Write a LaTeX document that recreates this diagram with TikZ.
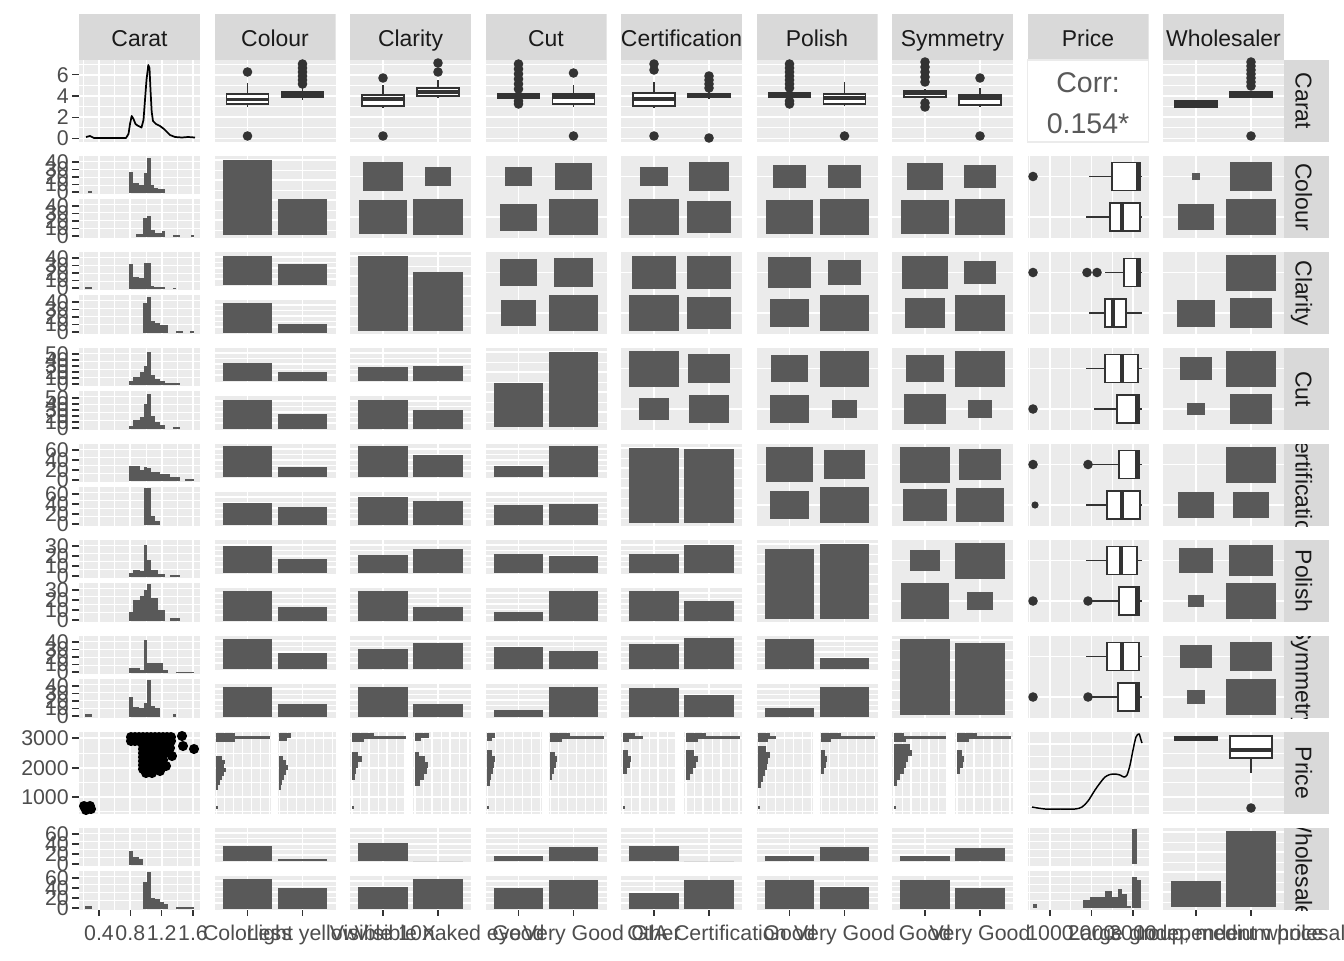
\documentclass[tikz,border=0pt]{standalone}
\usepackage{fontspec}
\setmainfont{Liberation Sans}

\definecolor{panelgrey}{HTML}{EBEBEB}
\definecolor{stripgrey}{HTML}{D9D9D9}
\definecolor{bargrey}{HTML}{595959}
\definecolor{axisgrey}{HTML}{4D4D4D}
\definecolor{inkgrey}{HTML}{333333}
\definecolor{stripink}{HTML}{1A1A1A}
\definecolor{corrgrey}{HTML}{595959}

\tikzset{
  major/.style={draw=white, line width=1.4pt},
  minor/.style={draw=white, line width=0.7pt},
  boxline/.style={draw=inkgrey, line width=1.3pt},
  tickmark/.style={draw=inkgrey, line width=0.9pt},
  ylab/.style={anchor=east, inner sep=0pt, text=axisgrey, font=\fontsize{16}{16}\selectfont},
  xlab/.style={anchor=base, inner sep=0pt, text=axisgrey, font=\fontsize{16}{16}\selectfont},
  striplab/.style={anchor=base, inner sep=0pt, text=stripink, font=\fontsize{17.2}{18}\selectfont},
  corrlab/.style={inner sep=0pt, text=corrgrey, font=\fontsize{21.4}{22}\selectfont},
}

% panel corner (pixels) from column and row
\newcommand\setpanel[2]{%
  \pgfmathsetmacro\pnx{79+135.5*(#1-1)}%
  \pgfmathsetmacro\pny{60+96*(#2-1)}}
\newcommand\vlines[4]{\foreach \g in {#1} {\draw[#4] (\g,#2) -- ++(0,#3);}}
\newcommand\hlines[4]{\foreach \g in {#1} {\draw[#4] (#2,\g) -- ++(#3,0);}}
\newcommand\panelbg{\fill[panelgrey] (\pnx,\pny) rectangle ++(121,82);}
\newcommand\outlier[2]{\fill[inkgrey] (#1,#2) circle[radius=3.6pt];}

% grid lines
\newcommand\caratgrid[2]{%
  \vlines{83.3,114.7,146,177.3}{#1}{#2}{minor}
  \vlines{99,130.3,161.6,193}{#1}{#2}{major}}
\newcommand\pricegrid[2]{%
  \vlines{1029.3,1070.8,1112.3}{#1}{#2}{minor}
  \vlines{1050,1091.5,1133}{#1}{#2}{major}}
\newcommand\discgrid{\vlines{\pnx+33,\pnx+88}{\pny}{82}{major}}
\newcommand\levelgrid{\hlines{\pny+20.5,\pny+61}{\pnx}{121}{major}}
\newcommand\caratrows{%
  \hlines{127.9,106.7,85.4,64.2}{\pnx}{121}{minor}
  \hlines{138.5,117.3,96,74.8}{\pnx}{121}{major}}
\newcommand\pricerows{%
  \hlines{811.8,782.5,753}{\pnx}{121}{minor}
  \hlines{797,768,738}{\pnx}{121}{major}}

% boxplots
\newcommand\vboxplot[6]{% x, whisker top, upper hinge, median, lower hinge, whisker bottom
  \draw[boxline] (#1,#2) -- (#1,#6);
  \filldraw[boxline, fill=white] (#1-21,#3) rectangle (#1+21,#5);
  \draw[boxline, line width=2.6pt] (#1-21,#4) -- (#1+21,#4);}
\newcommand\hboxplot[6]{% y, whisker left, lower hinge, median, upper hinge, whisker right
  \draw[boxline] (#2,#1) -- (#6,#1);
  \filldraw[boxline, fill=white] (#3,#1-14) rectangle (#5,#1+14);
  \draw[boxline, line width=2.6pt] (#4,#1-14) -- (#4,#1+14);}

% count tiles: col, row, sizes top-left, top-right, bottom-left, bottom-right
\newcommand\countpanel[6]{%
  \setpanel{#1}{#2}\panelbg\discgrid\levelgrid
  \foreach \s/\xo/\yo in {#3/33/20.5,#4/88/20.5,#5/33/61,#6/88/61}
    {\fill[bargrey] (\pnx+\xo-24.75*\s,\pny+\yo-18*\s) rectangle (\pnx+\xo+24.75*\s,\pny+\yo+18*\s);}}

% faceted bars: col, row, top bars, bottom bars
\newcommand\facetbars[6]{%
  \setpanel{#1}{#2}
  \foreach \sy/\fa/\fb in {0/#3/#4,48/#5/#6}{
    \fill[panelgrey] (\pnx,\pny+\sy) rectangle ++(121,34);
    \hlines{\pny+\sy+10.5,\pny+\sy+21.5}{\pnx}{121}{minor}
    \hlines{\pny+\sy+5,\pny+\sy+16,\pny+\sy+27}{\pnx}{121}{major}
    \vlines{\pnx+33,\pnx+88}{\pny+\sy}{34}{major}
    \fill[bargrey] (\pnx+8.25,\pny+\sy+32.5) rectangle ++(49.5,-31*\fa);
    \fill[bargrey] (\pnx+63.25,\pny+\sy+32.5) rectangle ++(49.5,-31*\fb);
  }}

% bars on the diagonal
\newcommand\diagbars[3]{%
  \setpanel{#1}{#1}\panelbg
  \hlines{\pny+14,\pny+34,\pny+54,\pny+74}{\pnx}{121}{minor}
  \hlines{\pny+4,\pny+24,\pny+44,\pny+64}{\pnx}{121}{major}
  \discgrid
  \fill[bargrey] (\pnx+8.25,\pny+79) rectangle (\pnx+57.75,\pny+82-82*#2);
  \fill[bargrey] (\pnx+63.25,\pny+79) rectangle (\pnx+112.75,\pny+82-82*#3);}

% carat histograms in two facets: row, top bars, bottom bars, labels, label step
\newcommand\carathist[5]{%
  \setpanel{1}{#1}
  \foreach \sy/\sh in {0/38,43/39}{
    \fill[panelgrey] (79,\pny+\sy) rectangle ++(121,\sh);
    \hlines{\pny+\sy+5,\pny+\sy+13,\pny+\sy+21,\pny+\sy+29}{79}{121}{minor}
    \caratgrid{\pny+\sy}{\sh}
    \foreach \lab [count=\kk from 0] in {#4}{
      \draw[tickmark] (72,\pny+\sy+\sh-2-\kk*#5) -- ++(7,0);
      \node[ylab] at (69,\pny+\sy+\sh-2-\kk*#5) {\lab};
    }
  }
  \foreach \xa/\xb/\yt in {#2} {\fill[bargrey] (\xa,\pny+36.5) rectangle (\xb,\yt);}
  \foreach \xa/\xb/\yt in {#3} {\fill[bargrey] (\xa,\pny+80.5) rectangle (\xb,\yt);}}

% price histograms lying on their side: col, left bars, right bars
\newcommand\pricehist[3]{%
  \setpanel{#1}{8}
  \foreach \sx/\sw in {0/56,63/58}{
    \fill[panelgrey] (\pnx+\sx,732) rectangle ++(\sw,82);
    \hlines{811.8,782.5,753}{\pnx+\sx}{\sw}{minor}
    \hlines{797,768,738}{\pnx+\sx}{\sw}{major}
    \vlines{\pnx+\sx+10,\pnx+\sx+28,\pnx+\sx+46}{732}{82}{minor}
    \vlines{\pnx+\sx+2,\pnx+\sx+19,\pnx+\sx+37,\pnx+\sx+55}{732}{82}{major}
  }
  \foreach \ya/\yb/\bl in {#2} {\fill[bargrey] (\pnx+1.5,\ya) rectangle (\pnx+1.5+\bl,\yb);}
  \foreach \ya/\yb/\bl in {#3} {\fill[bargrey] (\pnx+64.5,\ya) rectangle (\pnx+64.5+\bl,\yb);}}

\begin{document}
\begin{tikzpicture}[x=0.75pt, y=-0.75pt]
  \useasboundingbox (0,0) rectangle (1344,960);
  \fill[white] (0,0) rectangle (1344,960);

  % Strips on top and on the right
  \foreach \lab [count=\i] in {Carat,Colour,Clarity,Cut,Certification,Polish,Symmetry,Price,Wholesaler}{
    \setpanel{\i}{\i}
    \begin{scope}
      \clip (\pnx,14) rectangle ++(121,46);
      \fill[stripgrey] (\pnx,14) rectangle ++(121,46);
      \node[striplab] (top\i) at (\pnx+60.5,46.5) {\lab};
    \end{scope}
    \begin{scope}
      \clip (1283,\pny) rectangle (1329,\pny+82);
      \fill[stripgrey] (1283,\pny) rectangle (1329,\pny+82);
      \node[striplab, rotate=-90] (side\i) at (1295.5,\pny+41) {\lab};
    \end{scope}
  }

  % Row 1: carat density, boxplots, correlation
  \setpanel{1}{1}\panelbg\caratrows\caratgrid{\pny}{82}
  \draw[black, line width=1.3pt, line join=round] plot coordinates {(86,137) (90,136) (94,138) (110,138) (126,138) (128.5,134) (130,124) (131.7,116) (133.5,119) (135.5,124) (137.5,125.5) (141.5,127.5) (143.5,120) (145,100) (146.5,80) (148.3,65) (149.5,68) (150.5,90) (151.7,112) (153,121) (156,124) (160,126) (164,129) (167,132) (170,135) (175,137) (182,137.5) (188,137) (195,137.5)};
  \foreach \cc in {2,3,4,5,6,7,9}{\setpanel{\cc}{1}\panelbg\caratrows\discgrid}
  \vboxplot{247.5}{83}{94}{99.3}{104}{107}
  \foreach \oy in {72,136} {\outlier{247.5}{\oy}}
  \vboxplot{302.5}{88}{92}{95}{97}{100}
  \foreach \oy in {64,68,72,76,80,84} {\outlier{302.5}{\oy}}
  \vboxplot{383}{85}{95}{99}{106}{108}
  \foreach \oy in {78,136} {\outlier{383}{\oy}}
  \vboxplot{438}{80}{88}{92}{96}{98}
  \foreach \oy in {63,72} {\outlier{438}{\oy}}
  \vboxplot{518.5}{92}{94}{96}{98}{100}
  \foreach \oy in {64,69,74,79,84,89,101,104} {\outlier{518.5}{\oy}}
  \vboxplot{573.5}{85}{94}{97}{104}{107}
  \foreach \oy in {73,136} {\outlier{573.5}{\oy}}
  \vboxplot{654}{82}{93}{99}{106}{108}
  \foreach \oy in {64,70,136} {\outlier{654}{\oy}}
  \vboxplot{709}{90}{94}{95.5}{97}{99}
  \foreach \oy in {76,80,84,88,138} {\outlier{709}{\oy}}
  \vboxplot{789.5}{91}{93}{95}{97}{99}
  \foreach \oy in {64,68,72,76,80,84,88,101,104} {\outlier{789.5}{\oy}}
  \vboxplot{844.5}{82}{94}{98}{104}{106}
  \outlier{844.5}{136}
  \vboxplot{925}{89}{91}{93}{97}{100}
  \foreach \oy in {62,67,72,77,82,103,107} {\outlier{925}{\oy}}
  \vboxplot{980}{88}{95}{98}{105}{107}
  \foreach \oy in {78,136} {\outlier{980}{\oy}}
  \vboxplot{1196}{100}{101}{104}{107}{107}
  \vboxplot{1251}{91}{92}{95}{97}{97}
  \foreach \oy in {62,66,70,74,78,82,86,136} {\outlier{1251}{\oy}}
  \setpanel{8}{1}
  \fill[white] (\pnx,\pny) rectangle ++(121,82);
  \draw[panelgrey, line width=1.2pt] (\pnx,\pny) rectangle ++(121,82);
  \node[corrlab] (corrhead) at (\pnx+60.5,83) {Corr:};
  \node[corrlab] (corrval) at (\pnx+60.5,124) {0.154*};

  % Carat histograms split by each factor
  \carathist{2}{88/92/191, 129/133/172, 133/139/183, 139/144/185, 144/147/173, 147/151/158, 151/154/185, 154/158/188, 158/165/189}{136/143/234, 143/147/218, 147/151/216, 151/155/230, 155/162/233, 162/165/231, 173/180/235, 191/194/235}{0,10,20,30,40}{7.5}
  \carathist{3}{85/92/287, 129/133/264, 133/139/277, 139/144/278, 144/147/263, 147/151/262.5, 151/154/285.5, 154/160/286.5, 160/165/287, 173/176/287.5}{143/147/303, 147/151/297, 151/155/320.5, 155/160/322.5, 160/168/325, 176/183/331, 190/194/331}{0,10,20,30,40}{7.5}
  \carathist{4}{129/133/381, 133/140/377, 140/144/372, 144/147/366, 147/151/352, 151/155/375, 155/160/379, 160/165/381, 165/180/383}{129/133/426, 133/140/420, 140/144/417, 144/147/404, 147/151/394, 151/155/416, 155/160/422, 160/165/425, 173/180/427}{0,10,20,30,40,50}{6}
  \carathist{5}{129/140/466, 140/144/470, 144/147/467, 147/151/468, 151/160/472, 160/170/474, 170/180/477, 185/194/479}{144/147/488, 147/151/488, 151/155/516, 155/160/521}{0,20,40,60}{10}
  \carathist{6}{129/133/573, 133/140/570, 140/144/571, 144/147/545, 147/151/560, 151/158/570, 158/165/574, 170/180/575}{129/133/612, 133/140/600, 140/144/596, 144/147/590, 147/151/584, 151/158/598, 158/165/610, 170/180/618}{0,10,20,30}{10}
  \carathist{7}{129/140/667.5, 140/144/670, 144/147/640, 147/151/663, 151/158/663, 158/163/662.5, 163/168/670, 176/194/672}{85/92/713.5, 129/133/696.5, 133/139/707, 139/144/708, 144/147/702.5, 147/151/680, 151/155/706, 155/160/708, 173/176/714}{0,10,20,30,40}{7.5}
  \carathist{9}{129/133/851, 133/139/857, 139/143/859}{85/92/906, 143/147/881.5, 147/151/872, 151/155/898, 155/160/899, 160/164/901.5, 164/168/904, 176/194/906.5}{0,20,40,60}{10}

  % Diagonal bars
  \diagbars{2}{0.95}{0.48}
  \diagbars{3}{0.95}{0.76}
  \diagbars{4}{0.57}{0.95}
  \diagbars{5}{0.95}{0.94}
  \diagbars{6}{0.89}{0.95}
  \diagbars{7}{0.96}{0.915}
  \diagbars{9}{0.35}{0.96}

  % Count tiles above the diagonal
  \countpanel{3}{2}{0.8}{0.52}{0.97}{1.0}
  \countpanel{4}{2}{0.53}{0.75}{0.75}{1.0}
  \countpanel{5}{2}{0.55}{0.8}{1.0}{0.9}
  \countpanel{6}{2}{0.65}{0.65}{0.95}{1.0}
  \countpanel{7}{2}{0.73}{0.65}{0.97}{1.0}
  \countpanel{9}{2}{0.18}{0.83}{0.71}{1.0}
  \countpanel{4}{3}{0.75}{0.8}{0.72}{1.0}
  \countpanel{5}{3}{0.9}{0.9}{1.0}{0.9}
  \countpanel{6}{3}{0.87}{0.67}{0.77}{1.0}
  \countpanel{7}{3}{0.93}{0.65}{0.81}{1.0}
  \countpanel{9}{3}{0}{1.0}{0.75}{0.85}
  \countpanel{5}{4}{1.0}{0.83}{0.59}{0.79}
  \countpanel{6}{4}{0.75}{1.0}{0.79}{0.52}
  \countpanel{7}{4}{0.77}{1.0}{0.85}{0.49}
  \countpanel{9}{4}{0.65}{1.0}{0.36}{0.83}
  \countpanel{6}{5}{0.95}{0.83}{0.79}{1.0}
  \countpanel{7}{5}{1.0}{0.85}{0.89}{0.97}
  \countpanel{9}{5}{0}{1.0}{0.71}{0.71}
  \countpanel{7}{6}{0.6}{1.0}{0.98}{0.52}
  \countpanel{9}{6}{0.67}{0.87}{0.34}{1.0}
  \countpanel{9}{7}{0.63}{0.83}{0.38}{1.0}

  % Faceted bars below the diagonal
  \facetbars{2}{3}{0.91}{0.65}{0.95}{0.28}
  \facetbars{2}{4}{0.56}{0.28}{0.93}{0.47}
  \facetbars{3}{4}{0.44}{0.47}{0.93}{0.59}
  \facetbars{2}{5}{0.97}{0.30}{0.70}{0.55}
  \facetbars{3}{5}{0.97}{0.69}{0.89}{0.77}
  \facetbars{4}{5}{0.33}{0.97}{0.64}{0.67}
  \facetbars{2}{6}{0.85}{0.44}{0.95}{0.43}
  \facetbars{3}{6}{0.57}{0.75}{0.95}{0.43}
  \facetbars{4}{6}{0.6}{0.54}{0.28}{0.95}
  \facetbars{5}{6}{0.6}{0.88}{0.95}{0.64}
  \facetbars{2}{7}{0.94}{0.51}{0.95}{0.40}
  \facetbars{3}{7}{0.63}{0.81}{0.95}{0.40}
  \facetbars{4}{7}{0.69}{0.57}{0.21}{0.95}
  \facetbars{5}{7}{0.78}{0.97}{0.92}{0.70}
  \facetbars{6}{7}{0.94}{0.35}{0.28}{0.95}
  \facetbars{2}{9}{0.48}{0.05}{0.94}{0.66}
  \facetbars{3}{9}{0.55}{0}{0.69}{0.94}
  \facetbars{4}{9}{0.16}{0.43}{0.65}{0.92}
  \facetbars{5}{9}{0.48}{0}{0.50}{0.92}
  \facetbars{6}{9}{0.16}{0.43}{0.92}{0.70}
  \facetbars{7}{9}{0.16}{0.40}{0.92}{0.65}

  % Price boxplots by factor
  \foreach \rr in {2,...,7}{\setpanel{8}{\rr}\panelbg\pricegrid{\pny}{82}\levelgrid}
  \hboxplot{176.5}{1089}{1112}{1138}{1140}{1142}
  \outlier{1033}{176.5}
  \hboxplot{217}{1086}{1110}{1122}{1140}{1142}
  \hboxplot{272.5}{1105}{1124}{1138}{1140}{1142}
  \foreach \ox in {1033,1087,1097} {\outlier{\ox}{272.5}}
  \hboxplot{313}{1089}{1105}{1113}{1126}{1142}
  \hboxplot{368.5}{1086}{1105}{1122}{1138}{1142}
  \hboxplot{409}{1094}{1117}{1137}{1139}{1142}
  \outlier{1033}{409}
  \hboxplot{464.5}{1088}{1119}{1137}{1139}{1142}
  \foreach \ox in {1033,1088} {\outlier{\ox}{464.5}}
  \hboxplot{505}{1086}{1107}{1122}{1140}{1142}
  \fill[inkgrey] (1035,505) circle[radius=2.7pt];
  \hboxplot{560.5}{1086}{1107}{1121}{1137}{1142}
  \hboxplot{601}{1088}{1119}{1137}{1139}{1142}
  \foreach \ox in {1033,1088} {\outlier{\ox}{601}}
  \hboxplot{656.5}{1086}{1107}{1122}{1139}{1142}
  \hboxplot{697}{1088}{1118}{1137}{1139}{1142}
  \foreach \ox in {1033,1088} {\outlier{\ox}{697}}

  % Row 8: scatter, price histograms, density, boxplots
  \setpanel{1}{8}\panelbg\pricerows\caratgrid{\pny}{82}
  \foreach \sx/\sy in {84/806,87/809,90/806,86/810,91/809} {\fill[black] (\sx,\sy) circle[radius=3.8pt];}
  \foreach \sx in {131,135,...,171}{\fill[black] (\sx,737) circle[radius=3.8pt]; \fill[black] (\sx,741) circle[radius=3.8pt];}
  \foreach \sy in {745,749,...,769} {\foreach \sx in {143,147,...,159} {\fill[black] (\sx,\sy) circle[radius=3.8pt];}}
  \foreach \sx/\sy in {165/745,170/748,165/753,172/756,182/736,183/746,194/749,166/766,163/760,160/771,146/773,152/773} {\fill[black] (\sx,\sy) circle[radius=3.8pt];}
  \pricehist{2}{733/736/19, 736/739/54, 739/742/19, 756/760/6, 760/764/9, 764/768/8, 768/772/10, 772/776/8, 776/780/6, 780/785/4, 785/790/2, 806/809/2}{733/738/12, 738/741/8, 756/760/4, 760/765/7, 765/770/9, 770/775/7, 775/780/5, 780/785/3, 785/790/2}
  \pricehist{3}{733/736/22, 736/739/54, 739/742/12, 752/756/6, 756/762/10, 762/768/6, 768/774/4, 774/780/3, 806/809/2}{733/738/14, 738/741/6, 752/756/4, 756/762/10, 762/768/13, 768/774/12, 774/780/9, 780/786/5}
  \pricehist{4}{733/738/8, 738/741/5, 750/756/5, 756/762/8, 762/768/7, 768/774/6, 774/780/4, 780/786/3, 806/809/2}{733/736/20, 736/739/54, 739/742/12, 752/756/5, 756/762/7, 762/768/6, 768/774/4, 774/780/2}
  \pricehist{5}{733/736/12, 736/739/20, 739/742/6, 750/756/5, 756/762/8, 762/768/7, 768/774/4, 806/809/2}{733/736/20, 736/739/54, 739/742/12, 750/756/8, 756/762/12, 762/768/10, 768/774/7, 774/780/4}
  \pricehist{6}{733/736/12, 736/739/18, 739/742/10, 746/752/8, 752/758/12, 758/764/10, 764/770/9, 770/776/7, 776/782/5, 782/788/3, 806/809/2}{733/736/20, 736/739/54, 739/742/10, 750/756/4, 756/762/6, 762/768/5, 768/774/3}
  \pricehist{7}{733/736/10, 736/739/52, 739/742/12, 744/750/16, 750/756/18, 756/762/14, 762/768/12, 768/774/10, 774/780/6, 780/786/3, 806/809/2}{733/736/20, 736/739/54, 739/742/12, 750/756/5, 756/762/7, 762/768/6, 768/774/3}
  \setpanel{8}{8}\panelbg
  \hlines{\pny+24.5,\pny+49.5,\pny+74.5}{\pnx}{121}{minor}
  \hlines{\pny+12,\pny+37,\pny+62}{\pnx}{121}{major}
  \pricegrid{\pny}{82}
  \draw[black, line width=1.1pt] plot[smooth, tension=0.5] coordinates {(1032,807) (1045,809) (1060,809) (1075,809) (1082,807) (1088,801) (1095,790) (1100,783) (1105,777) (1110,774.5) (1115,774) (1120,775) (1124,777) (1127,775) (1130,765) (1133,750) (1136,737) (1139,734) (1141,740) (1142,743)};
  \setpanel{9}{8}\panelbg\pricerows\discgrid
  \vboxplot{1196}{736}{736.5}{738}{740}{740}
  \vboxplot{1251}{735}{736}{750}{758}{773}
  \outlier{1251}{808}

  % Row 9, price histograms split by wholesaler
  \setpanel{8}{9}
  \foreach \sy/\sh in {0/38,43/39}{
    \fill[panelgrey] (\pnx,\pny+\sy) rectangle ++(121,\sh);
    \hlines{\pny+\sy+5,\pny+\sy+13,\pny+\sy+21,\pny+\sy+29}{\pnx}{121}{minor}
    \pricegrid{\pny+\sy}{\sh}
  }
  \fill[bargrey] (1132,864) rectangle (1137,828.5);
  \foreach \xa/\xb/\yt in {1033/1037/904, 1083/1090/900, 1090/1097/897, 1097/1105/897, 1105/1112/891, 1112/1118/897, 1118/1122/889, 1122/1127/894, 1127/1131/906, 1132/1137/877, 1137/1141/880} {\fill[bargrey] (\xa,907.5) rectangle (\xb,\yt);}

  % Axis labels
  \foreach \yv/\lab in {138.5/0,117.3/2,96/4,74.8/6,797/1000,768/2000,738/3000}{
    \draw[tickmark] (72,\yv) -- ++(7,0);
    \node[ylab] at (69,\yv) {\lab};
  }
  \foreach \xv/\lab [count=\i] in {99/0.4,130.3/0.8,161.6/1.2,193/1.6,247.5/Colorless,302.5/Light yellow,383/Visible 10X,438/Visible naked eye,518.5/Good,573.5/Very Good,654/Other,709/GIA Certification,789.5/Good,844.5/Very Good,925/Good,980/Very Good,1050/1000,1091.5/2000,1133/3000,1196/{Large group, medium price},1251/Independent wholesaler}{
    \draw[tickmark] (\xv,910) -- ++(0,6);
    \node[xlab] (xlab\i) at (\xv,940) {\lab};
  }
\end{tikzpicture}
\end{document}
